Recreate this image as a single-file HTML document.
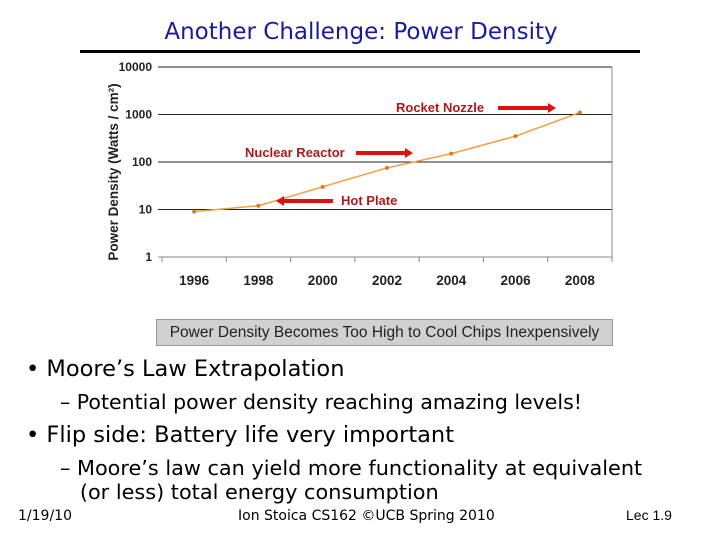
<!DOCTYPE html>
<html><head><meta charset="utf-8"><style>
body{margin:0;width:720px;height:540px;background:#fff;position:relative;overflow:hidden;font-family:"Liberation Sans",sans-serif;}
.t{position:absolute;white-space:nowrap;color:#000;}
.d{font-family:"DejaVu Sans",sans-serif;}
</style></head><body>
<div class="t d" style="left:0;width:722px;text-align:center;top:19px;font-size:23px;color:#1a1aa0;">Another Challenge: Power Density</div>
<div style="position:absolute;left:80px;top:50px;width:560px;height:3px;background:#000"></div>
<svg id="chart" width="720" height="300" style="position:absolute;left:0;top:0">
</svg>
<div style="position:absolute;left:156px;top:319px;width:455px;height:25px;background:#d0d0d0;border:1px solid #999;font-size:15.5px;line-height:25px;text-align:center;color:#222">Power Density Becomes Too High to Cool Chips Inexpensively</div>
<div class="t d" style="left:26px;top:356px;font-size:22.5px">•&nbsp;Moore’s Law Extrapolation</div>
<div class="t d" style="left:60px;top:390px;font-size:20.5px">–&nbsp;Potential power density reaching amazing levels!</div>
<div class="t d" style="left:26px;top:422px;font-size:22.5px">•&nbsp;Flip side: Battery life very important</div>
<div class="t d" style="left:60px;top:456px;font-size:20.8px;line-height:24px">–&nbsp;Moore’s law can yield more functionality at equivalent<br>&nbsp;&nbsp;&nbsp;(or less) total energy consumption</div>
<div class="t d" style="left:18px;top:508px;font-size:14px">1/19/10</div>
<div class="t d" style="left:238px;top:508px;font-size:14px">Ion Stoica CS162 ©UCB Spring 2010</div>
<div class="t" style="left:626px;top:507px;font-size:14px">Lec 1.9</div>
<script>
const categories=["1996","1998","2000","2002","2004","2006","2008"];
const values=[9,12,30,75,150,350,1100];
const yTicks=[1,10,100,1000,10000];
const yTickLabels=["1","10","100","1000","10000"];
const L=162,R=612,Y1=257,Y4=67;
const NS="http://www.w3.org/2000/svg";
const svg=document.getElementById('chart');
const band=(R-L)/categories.length;
function x(i){return L+band*(i+0.5);}
function y(v){return Y1-(Math.log10(v)/4)*(Y1-Y4);}
function mk(tag,attrs,text){const e=document.createElementNS(NS,tag);for(const k in attrs)e.setAttribute(k,attrs[k]);if(text!=null)e.textContent=text;svg.appendChild(e);return e;}
yTicks.forEach((v,i)=>{
 const g=mk('line',{x1:L-4,x2:R,y1:y(v),y2:y(v),stroke:i==0?'#888':'#222','stroke-width':1});
 
 
 const t=mk('text',{x:L-10,y:y(v)+4,'text-anchor':'end','font-size':12,'font-weight':'bold',fill:'#222'},yTickLabels[i]);
 
 
});
mk('line',{x1:R,x2:R,y1:Y4,y2:Y1,stroke:'#888'});
for(let i=0;i<=categories.length;i++){const xx=L+band*i;mk('line',{x1:xx,x2:xx,y1:Y1,y2:Y1+5,stroke:'#888'});}
categories.forEach((c,i)=>{
 const t=mk('text',{x:x(i),y:285,'text-anchor':'middle','font-size':13.5,'font-weight':'bold',fill:'#222'},c);
 
 
});
const yt=mk('text',{x:0,y:0,transform:'translate(118,172) rotate(-90)','text-anchor':'middle','font-size':13.5,'font-weight':'bold',fill:'#222'},'Power Density (Watts / cm²)');


const line=mk('polyline',{points:values.map((v,i)=>x(i)+','+y(v)).join(' '),fill:'none',stroke:'#f0a040','stroke-width':1.5});


values.forEach((v,i)=>{
 const p=mk('circle',{cx:x(i),cy:y(v),r:2,fill:'#e07820'});
 
 
});
function arrow(x1,x2,yy,name){
 const dir=Math.sign(x2-x1);
 const a=mk('polygon',{points:`${x1},${yy-2} ${x2-dir*8},${yy-2} ${x2-dir*8},${yy-5} ${x2},${yy} ${x2-dir*8},${yy+5} ${x2-dir*8},${yy+2} ${x1},${yy+2}`,fill:'#e01010'});
 
 
}
function lab(tx,ty,s,name){const t=mk('text',{x:tx,y:ty,'font-size':13,'font-weight':'bold',fill:'#b01818'},s);
 
 }
lab(396,112,'Rocket Nozzle','rocket-nozzle-label');arrow(498,556,108,'rocket-nozzle-arrow');
lab(245,157,'Nuclear Reactor','nuclear-reactor-label');arrow(356,413,153,'nuclear-reactor-arrow');
lab(341,205,'Hot Plate','hot-plate-label');arrow(333,276,201,'hot-plate-arrow');
</script>
</body></html>
